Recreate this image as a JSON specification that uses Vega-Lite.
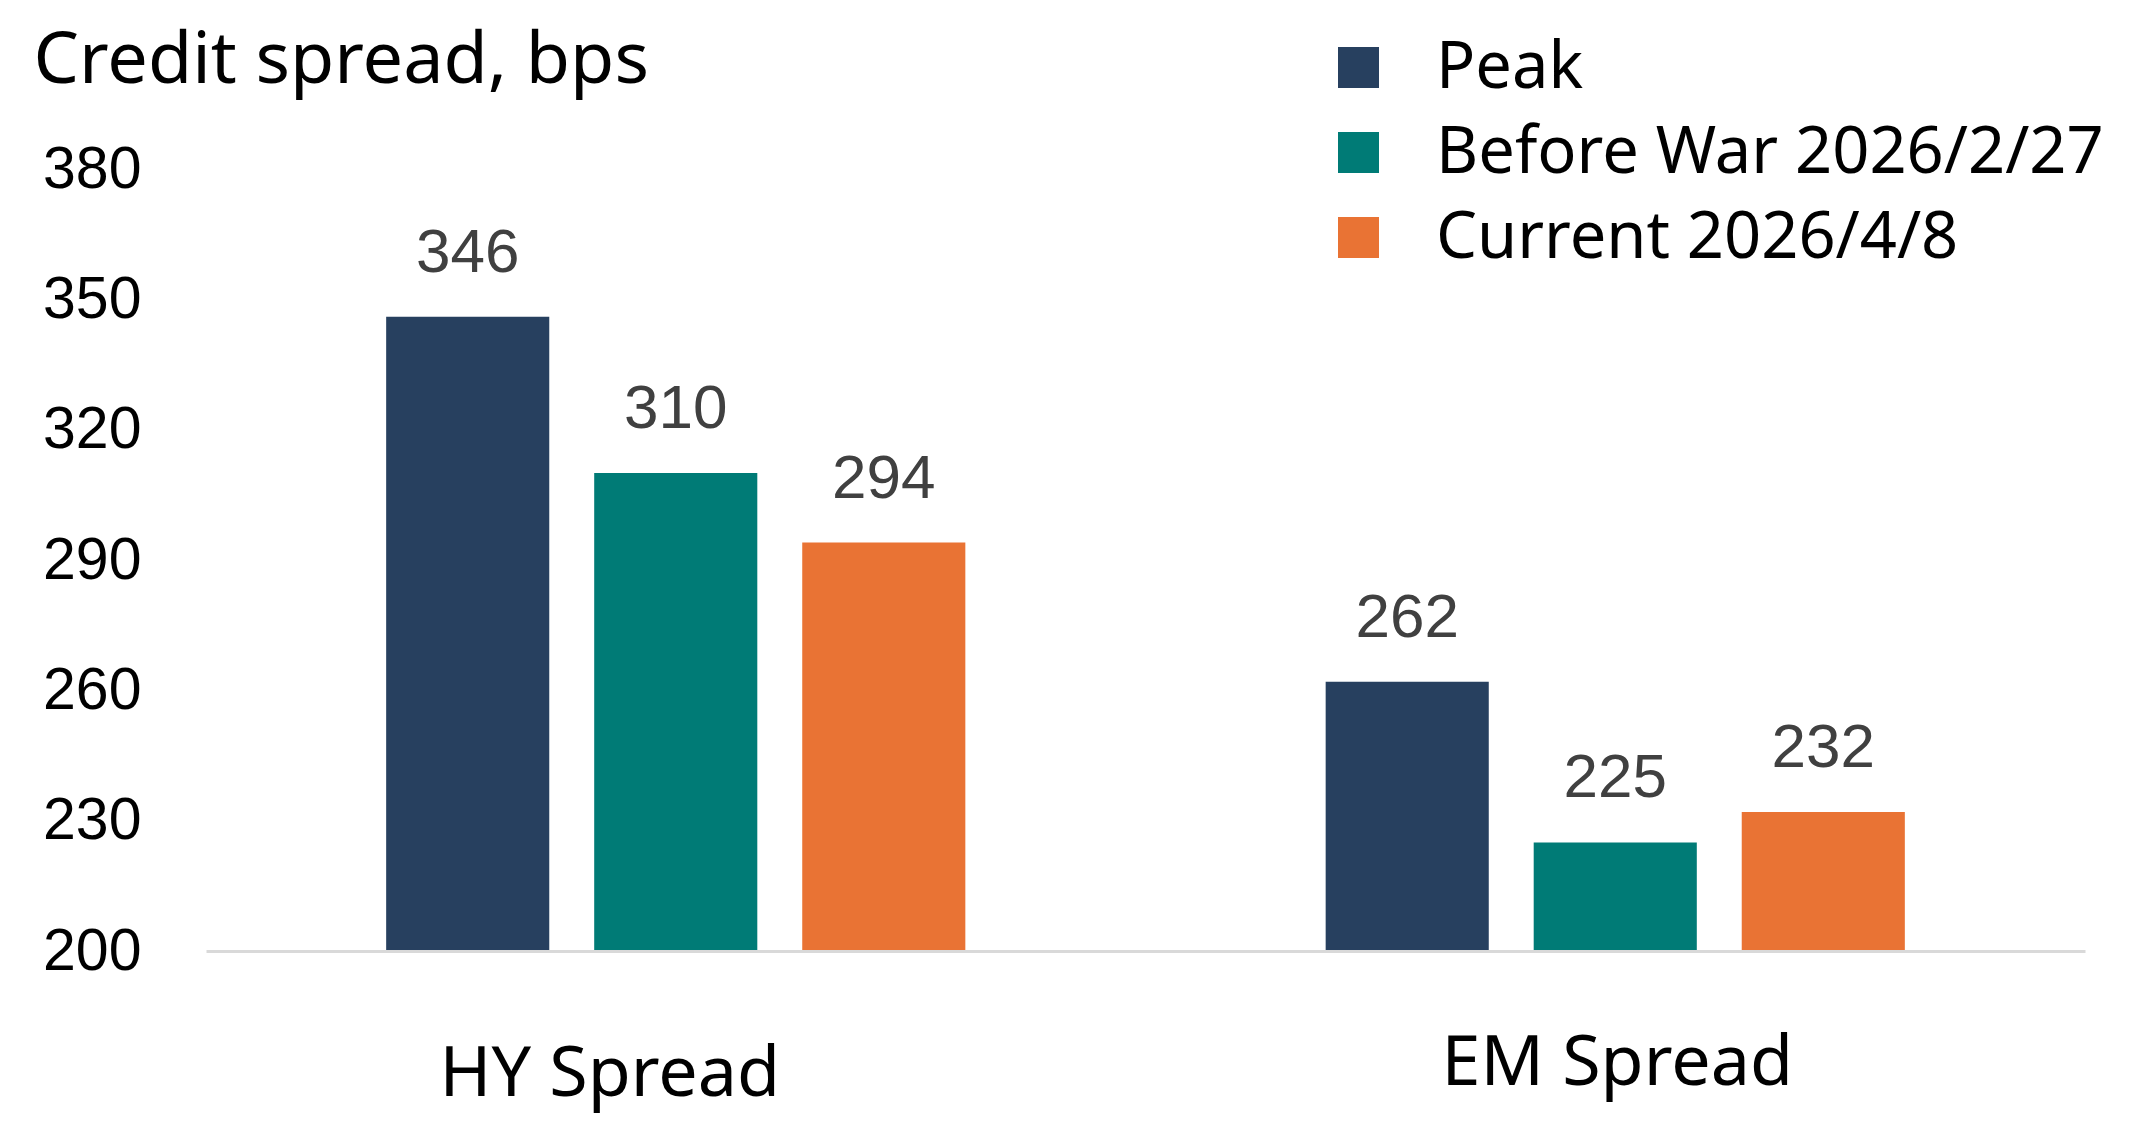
{
  "$schema": "https://vega.github.io/schema/vega-lite/v6.json",
  "autosize": {"type": "none"},
  "padding": {"left": 206, "top": 169, "right": 66, "bottom": 174},
  "width": 1879,
  "height": 782,
  "background": "white",
  "config": {"view": {"stroke": null}},
  "data": {
    "values": [
      {"category": "HY Spread", "series": "Peak", "value": 346},
      {"category": "HY Spread", "series": "Before War 2026/2/27", "value": 310},
      {"category": "HY Spread", "series": "Current 2026/4/8", "value": 294},
      {"category": "EM Spread", "series": "Peak", "value": 262},
      {"category": "EM Spread", "series": "Before War 2026/2/27", "value": 225},
      {"category": "EM Spread", "series": "Current 2026/4/8", "value": 232}
    ]
  },
  "encoding": {
    "x": {
      "field": "category",
      "type": "nominal",
      "sort": ["HY Spread", "EM Spread"],
      "scale": {"paddingInner": 0, "paddingOuter": 0},
      "axis": {
        "title": null,
        "labelAngle": 0,
        "ticks": false,
        "tickSize": 0,
        "domain": true,
        "domainColor": "#d9d9d9",
        "domainWidth": 3,
        "labelFont": "Noto Sans",
        "labelFontSize": 70,
        "labelColor": "#000000",
        "labelBaseline": "alphabetic",
        "labelLimit": 1000,
        "labelOffset": {"condition": {"test": "datum.value === 'HY Spread'", "value": -66}, "value": 2},
        "labelPadding": {"condition": {"test": "datum.value === 'HY Spread'", "value": 144}, "value": 133},
        "zindex": 1
      }
    },
    "xOffset": {
      "field": "series",
      "type": "nominal",
      "sort": ["Peak", "Before War 2026/2/27", "Current 2026/4/8"],
      "scale": {"paddingInner": 0.216, "paddingOuter": 0.866}
    },
    "y": {
      "field": "value",
      "type": "quantitative",
      "scale": {"domain": [200, 380], "zero": false, "nice": false},
      "axis": {
        "values": [200, 230, 260, 290, 320, 350, 380],
        "grid": false,
        "domain": false,
        "ticks": false,
        "tickSize": 0,
        "labelPadding": 65,
        "labelFont": "Liberation Sans",
        "labelFontSize": 59,
        "labelColor": "#000000",
        "title": "Credit spread, bps",
        "titleAngle": 0,
        "titleAlign": "left",
        "titleBaseline": "alphabetic",
        "titleX": -173,
        "titleY": -87,
        "titleFont": "Noto Sans",
        "titleFontSize": 72,
        "titleFontWeight": "normal",
        "titleColor": "#000000"
      }
    }
  },
  "layer": [
    {
      "mark": {"type": "bar"},
      "encoding": {
        "y2": {"datum": 200},
        "color": {
          "field": "series",
          "type": "nominal",
          "sort": ["Peak", "Before War 2026/2/27", "Current 2026/4/8"],
          "scale": {
            "domain": ["Peak", "Before War 2026/2/27", "Current 2026/4/8"],
            "range": ["#27405F", "#007B76", "#E97334"]
          },
          "legend": {
            "title": null,
            "orient": "none",
            "legendX": 1120,
            "legendY": -134,
            "padding": 0,
            "symbolType": "square",
            "symbolSize": 1681,
            "symbolStrokeWidth": 0,
            "symbolOpacity": 1,
            "labelFont": "Noto Sans",
            "labelFontSize": 65,
            "labelColor": "#000000",
            "labelOffset": 45,
            "labelLimit": 1000,
            "rowPadding": 19
          }
        }
      }
    },
    {
      "mark": {
        "type": "text",
        "baseline": "alphabetic",
        "dy": -45,
        "font": "Liberation Sans",
        "fontSize": 62,
        "color": "#404040"
      },
      "encoding": {
        "text": {"field": "value", "type": "quantitative"}
      }
    }
  ]
}
